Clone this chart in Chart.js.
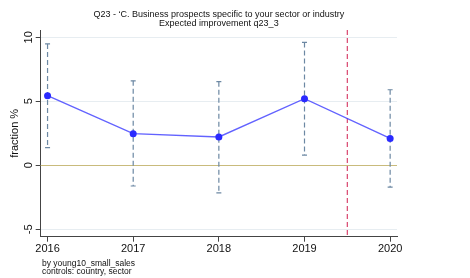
<!DOCTYPE html>
<html>
<head>
<meta charset="utf-8">
<script src="https://cdn.jsdelivr.net/npm/chart.js@4.4.1/dist/chart.umd.min.js"></script>
<style>
  html, body { margin: 0; padding: 0; background: #fff; }
  #wrap { width: 470px; height: 278px; }
</style>
</head>
<body>
<div id="wrap"><canvas id="chart" width="470" height="278"></canvas></div>
<script>
const years = [2016, 2017, 2018, 2019, 2020];
const estimate = [5.44, 2.47, 2.21, 5.2, 2.1];
const upper = [9.48, 6.6, 6.53, 9.6, 5.9];
const lower = [1.38, -1.62, -2.16, 0.8, -1.7];
const yTicks = [-5, 0, 5, 10];
const cutoffYear = 2019.5;

const titleLines = ['Q23 - \u2018C. Business prospects specific to your sector or industry', 'Expected improvement q23_3'];
const noteLines = ['by young10_small_sales', 'controls: country, sector'];

const FONT = '"Liberation Sans", Arial, sans-serif';

const ctx = document.getElementById('chart').getContext('2d');

// error bars and the vertical cutoff line, drawn under the series
const extras = {
  id: 'extras',
  beforeDatasetsDraw(chart) {
    const c = chart.ctx;
    const x = chart.scales.x;
    const y = chart.scales.y;
    const area = chart.chartArea;
    c.save();

    // zero reference line
    c.strokeStyle = '#c9bb7c';
    c.lineWidth = 1;
    const zy = Math.round(y.getPixelForValue(0)) + 0.5;
    c.beginPath();
    c.moveTo(area.left, zy);
    c.lineTo(area.right, zy);
    c.stroke();

    // cutoff line
    c.strokeStyle = '#d9456e';
    c.lineWidth = 1.2;
    c.setLineDash([5, 3]);
    const cx = x.getPixelForValue(cutoffYear);
    c.beginPath();
    c.moveTo(cx, area.top);
    c.lineTo(cx, area.bottom);
    c.stroke();

    // confidence intervals
    c.strokeStyle = '#6c88a3';
    c.lineWidth = 1.2;
    years.forEach((yr, i) => {
      const px = x.getPixelForValue(yr);
      const top = y.getPixelForValue(upper[i]);
      const bot = y.getPixelForValue(lower[i]);
      c.setLineDash([5, 3]);
      c.beginPath();
      c.moveTo(px, top);
      c.lineTo(px, bot);
      c.stroke();
      c.setLineDash([]);
      c.beginPath();
      c.moveTo(px - 2.5, top);
      c.lineTo(px + 2.5, top);
      c.moveTo(px - 2.5, bot);
      c.lineTo(px + 2.5, bot);
      c.stroke();
    });
    c.restore();
  },
  afterDraw(chart) {
    const c = chart.ctx;
    const y = chart.scales.y;
    const area = chart.chartArea;
    c.save();
    c.fillStyle = '#111';
    c.textAlign = 'center';
    c.textBaseline = 'middle';

    // rotated y tick labels
    c.font = '11px ' + FONT;
    yTicks.forEach(v => {
      c.save();
      c.translate(28.5, y.getPixelForValue(v));
      c.rotate(-Math.PI / 2);
      c.fillText(String(v), 0, 0);
      c.restore();
    });

    // y axis title
    c.save();
    c.font = '11px ' + FONT;
    c.translate(15, (area.top + area.bottom) / 2);
    c.rotate(-Math.PI / 2);
    c.fillText('fraction %', 0, 0);
    c.restore();

    // title
    c.font = '9px ' + FONT;
    const mid = (area.left + area.right) / 2;
    c.fillText(titleLines[0], mid, 15);
    c.fillText(titleLines[1], mid, 23.5);

    // note
    c.textAlign = 'left';
    c.font = '8.5px ' + FONT;
    c.fillText(noteLines[0], 42, 263.5);
    c.fillText(noteLines[1], 42, 271.5);
    c.restore();
  }
};

const chart = new Chart(ctx, {
  type: 'scatter',
  data: {
    datasets: [
      {
        data: years.map((yr, i) => ({ x: yr, y: estimate[i] })),
        showLine: true,
        borderColor: 'rgba(70, 70, 255, 0.85)',
        borderWidth: 1.4,
        pointRadius: 3.5,
        pointBackgroundColor: '#2a2aff',
        pointBorderColor: '#2a2aff',
        pointBorderWidth: 0,
      },
    ],
  },
  options: {
    responsive: false,
    animation: false,
    layout: {
      padding: { top: 30, right: 73, bottom: 0, left: 0 },
    },
    scales: {
      x: {
        type: 'linear',
        min: 2015.92,
        max: 2020.08,
        afterBuildTicks: (scale) => {
          scale.ticks = years.map(v => ({ value: v }));
        },
        afterFit: (scale) => {
          scale.height = 41.3;
        },
        ticks: {
          color: '#111',
          font: { family: FONT, size: 11 },
          padding: 1,
          maxRotation: 0,
          callback: (v) => String(v),
        },
        grid: {
          drawOnChartArea: false,
          drawTicks: true,
          tickLength: 5,
          color: '#444',
        },
        border: { display: true, color: '#444', width: 1 },
      },
      y: {
        min: -5.58,
        max: 10.57,
        afterBuildTicks: (scale) => {
          scale.ticks = yTicks.map(v => ({ value: v }));
        },
        afterFit: (scale) => {
          scale.width = 40.7;
        },
        ticks: { display: false },
        grid: {
          color: (c) => (c.tick && c.tick.value === 0 ? 'rgba(0,0,0,0)' : '#e7edf1'),
          tickColor: '#444',
          tickLength: 5,
          lineWidth: 1,
        },
        border: { display: true, color: '#444', width: 1 },
      },
    },
    plugins: {
      legend: { display: false },
      tooltip: { enabled: false },
    },
  },
  plugins: [extras],
});
</script>
</body>
</html>
